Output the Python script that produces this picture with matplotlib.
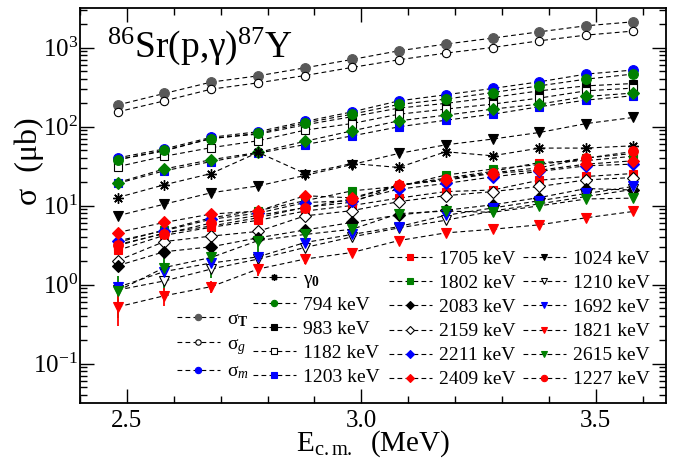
import numpy as np
import matplotlib
matplotlib.use('Agg')
import matplotlib.pyplot as plt
from matplotlib.legend import Legend
from matplotlib.ticker import LogLocator, MultipleLocator, FormatStrFormatter, NullFormatter

plt.rcParams['font.family'] = ['Liberation Serif', 'DejaVu Serif']
plt.rcParams['mathtext.fontset'] = 'custom'
plt.rcParams['mathtext.rm'] = 'Liberation Serif'
plt.rcParams['mathtext.it'] = 'Liberation Serif:italic'
plt.rcParams['mathtext.bf'] = 'Liberation Serif:bold'

# ---------------- data ----------------
energy = [2.48, 2.58, 2.68, 2.78, 2.88, 2.98, 3.08, 3.18, 3.28, 3.38, 3.48, 3.58]

sig_T = [187, 262, 365, 438, 553, 705, 908, 1104, 1315, 1580, 1885, 2114]
sig_g = [153, 211, 297, 357, 442, 559, 699, 849, 1000, 1216, 1436, 1614]
sig_m = [40, 52, 73, 86, 116, 153, 211, 252, 303, 368, 461, 518]
gamma0 = [12.6, 18.3, 25.4, 47, 25.4, 34, 30.3, 47.9, 42.6, 53.3, 53.3, 57]
s794 = [38, 50, 70, 82, 111, 143, 190, 222, 269, 327, 398, 461]
s983 = [38, 49, 71, 80, 105, 133, 171, 196, 233, 283, 327, 350]
s1182 = [31, 42, 54, 66, 90, 109, 143, 166, 192, 229, 283, 306]
s1203 = [19, 27.5, 36, 46, 59, 76, 99, 120, 143, 178, 216, 245]
s_gdiam = [19.5, 29, 38, 47, 65, 88, 118, 139, 166, 192, 240, 265]

s1705 = [3.1, 4.5, 5.5, 7.0, 9.5, 11, 18, 22.2, 27, 35, 37, 42]
s_rsq2 = [2.7, 4.2, 5.3, 6.5, 8.5, 10, 12.4, 15, 15.7, 20.9, 23.3, 25.4]
s1802 = [3.4, 4.9, 7.0, 8.6, 11.5, 15.3, 17.5, 24.3, 28.9, 33, 40, 45.5]
s2083 = [1.73, 2.6, 3.0, 3.9, 4.9, 6.1, 7.6, 8.7, 10.2, 12.6, 16.4, 15.7]
s2159 = [2.0, 3.5, 4.1, 4.7, 7.4, 8.6, 11.2, 13.3, 15, 17.4, 21.1, 22.6]
s2211 = [3.57, 4.8, 6.7, 8.0, 10.9, 11.5, 16.1, 19, 23, 27, 31.8, 33.4]
s2409 = [4.55, 6.1, 7.8, 8.5, 13.3, 12.5, 18.1, 20.9, 25.4, 28, 33.4, 36.8]

s1024 = [7.4, 10.4, 14.5, 17.7, 24, 33, 45.6, 58.6, 69.3, 84, 109, 130]
s1210 = [0.85, 1.11, 1.57, 2.1, 2.94, 4.0, 5.2, 6.5, 8.5, 10.5, 13, 16]
s1692 = [0.92, 1.46, 1.87, 2.24, 3.4, 4.3, 5.4, 7.5, 9.3, 11.5, 14.2, 17.4]
s1821 = [0.52, 0.72, 0.94, 1.57, 2.1, 2.54, 3.6, 4.5, 5.0, 5.7, 7.0, 8.4]
s2615 = [0.83, 1.64, 2.2, 3.6, 4.3, 5.0, 7.9, 8.5, 8.2, 9.9, 12.1, 12.4]
s1227 = [3.2, 4.4, 6.0, 7.5, 9.4, 12.1, 18.1, 21.5, 26, 30, 39.8, 48.3]

err2615 = [0.45, 0.8, 1.0, 1.3, 1.2, 0, 0, 0, 0, 0, 0, 0]
err1821 = [0.22, 0.19, 0.16, 0.3, 0.3, 0, 0, 0, 0, 0, 0, 0]

# ---------------- figure ----------------
fig = plt.figure(figsize=(6.85, 4.59), dpi=100)
W, H = 685.0, 459.0
ax = fig.add_axes([80 / W, 56 / H, 586 / W, 395 / H])

DASH = (0, (4.3, 2.9))
GRAY = '#595959'
BLUE = '#0000ff'
GREEN = '#008000'
RED = '#ff0000'


def series(y, marker, color, filled=True, ms=6.8, yerr=None, mew=0.8):
    mfc = color if filled else 'white'
    mec = color if filled else 'black'
    if yerr is not None:
        ax.errorbar(energy, y, yerr=yerr, fmt='none', ecolor=color,
                    elinewidth=1.3, capsize=0, zorder=2)
    ln, = ax.plot(energy, y, linestyle=DASH, color='black', lw=0.8,
                  marker=marker, ms=ms, mfc=mfc, mec=mec, mew=mew, zorder=3)
    return ln


h_T = series(sig_T, 'o', GRAY, ms=7)
h_g = series(sig_g, 'o', 'black', filled=False, ms=6)
h_983 = series(s983, 's', 'black', ms=6.3)
h_1182 = series(s1182, 's', 'black', filled=False, ms=5.8)
h_1203 = series(s1203, 's', BLUE, ms=6.3)
h_gd = series(s_gdiam, 'D', GREEN, ms=6)
h_m = series(sig_m, 'o', BLUE, ms=7)
h_794 = series(s794, 'o', GREEN, ms=7)
h_g0 = series(gamma0, (8, 2, 0), 'black', ms=7.5, mew=1.0)
h_1024 = series(s1024, 'v', 'black', ms=7)

h_rsq2 = series(s_rsq2, 's', RED, ms=6.3)
h_2159 = series(s2159, 'D', 'black', filled=False, ms=5.8)
h_2083 = series(s2083, 'D', 'black', ms=5.8)
h_1210 = series(s1210, 'v', 'black', filled=False, ms=6.5)
h_1692 = series(s1692, 'v', BLUE, ms=7)
h_2615 = series(s2615, 'v', GREEN, ms=7, yerr=err2615)
h_1821 = series(s1821, 'v', RED, ms=7, yerr=err1821)
h_1705 = series(s1705, 's', RED, ms=6.3)
h_1802 = series(s1802, 's', GREEN, ms=6.3)
h_2211 = series(s2211, 'D', BLUE, ms=6)
h_1227 = series(s1227, 'o', RED, ms=7)
h_2409 = series(s2409, 'D', RED, ms=6)

# ---------------- axes ----------------
ax.set_yscale('log')
ax.set_ylim(10 ** -1.5, 10 ** 3.5)
ax.set_xlim(2.4, 3.65)
ax.yaxis.set_major_locator(LogLocator(base=10, numticks=20))
ax.yaxis.set_minor_locator(LogLocator(base=10, subs=np.arange(2, 10), numticks=20))
ax.yaxis.set_minor_formatter(NullFormatter())
ax.xaxis.set_major_locator(MultipleLocator(0.5))
ax.xaxis.set_minor_locator(MultipleLocator(0.1))
ax.xaxis.set_major_formatter(FormatStrFormatter('%.1f'))
ax.tick_params(which='both', direction='in', top=True, right=True, labelsize=18, width=1.0)
ax.tick_params(which='major', length=10)
ax.tick_params(which='minor', length=5)
ax.tick_params(axis='x', which='major', pad=5)
ax.tick_params(axis='y', which='major', pad=1.5)
for sp in ax.spines.values():
    sp.set_linewidth(1.3)

ax.set_xlabel(r'E$_\mathrm{c.m.}$  (MeV)', fontsize=21, labelpad=-2.5)
ax.set_ylabel('σ  (μb)', fontsize=23)
ax.yaxis.set_label_coords(-0.062, 0.612)

ax.text(0.046, 0.955, r'$^{86}$Sr(p,γ)$^{87}$Y', transform=ax.transAxes,
        fontsize=27, va='top', ha='left')


# ---------------- legends ----------------
def legend(handles, labels, x0, yc):
    lg = Legend(ax, handles, labels, loc='center left',
                bbox_to_anchor=(x0 / W, 1 - yc / H), bbox_transform=fig.transFigure,
                frameon=False, fontsize=14, handlelength=2.2, handletextpad=0.36,
                labelspacing=0.33, borderpad=0, borderaxespad=0,
                markerscale=0.65, numpoints=1)
    ax.add_artist(lg)
    return lg


legend([h_T, h_g, h_m], [r'σ$_\mathbf{T}$', r'σ$_{g}$', r'σ$_{m}$'], 177, 346)
legend([h_g0, h_794, h_983, h_1182, h_1203],
       [r'γ$_\mathbf{0}$', '794 keV', '983 keV', '1182 keV', '1203 keV'], 253, 328)
legend([h_1705, h_1802, h_2083, h_2159, h_2211, h_2409],
       ['1705 keV', '1802 keV', '2083 keV', '2159 keV', '2211 keV', '2409 keV'], 389, 319.5)
legend([h_1024, h_1210, h_1692, h_1821, h_2615, h_1227],
       ['1024 keV', '1210 keV', '1692 keV', '1821 keV', '2615 keV', '1227 keV'], 523, 319.5)

fig.savefig('out.png', dpi=100)
